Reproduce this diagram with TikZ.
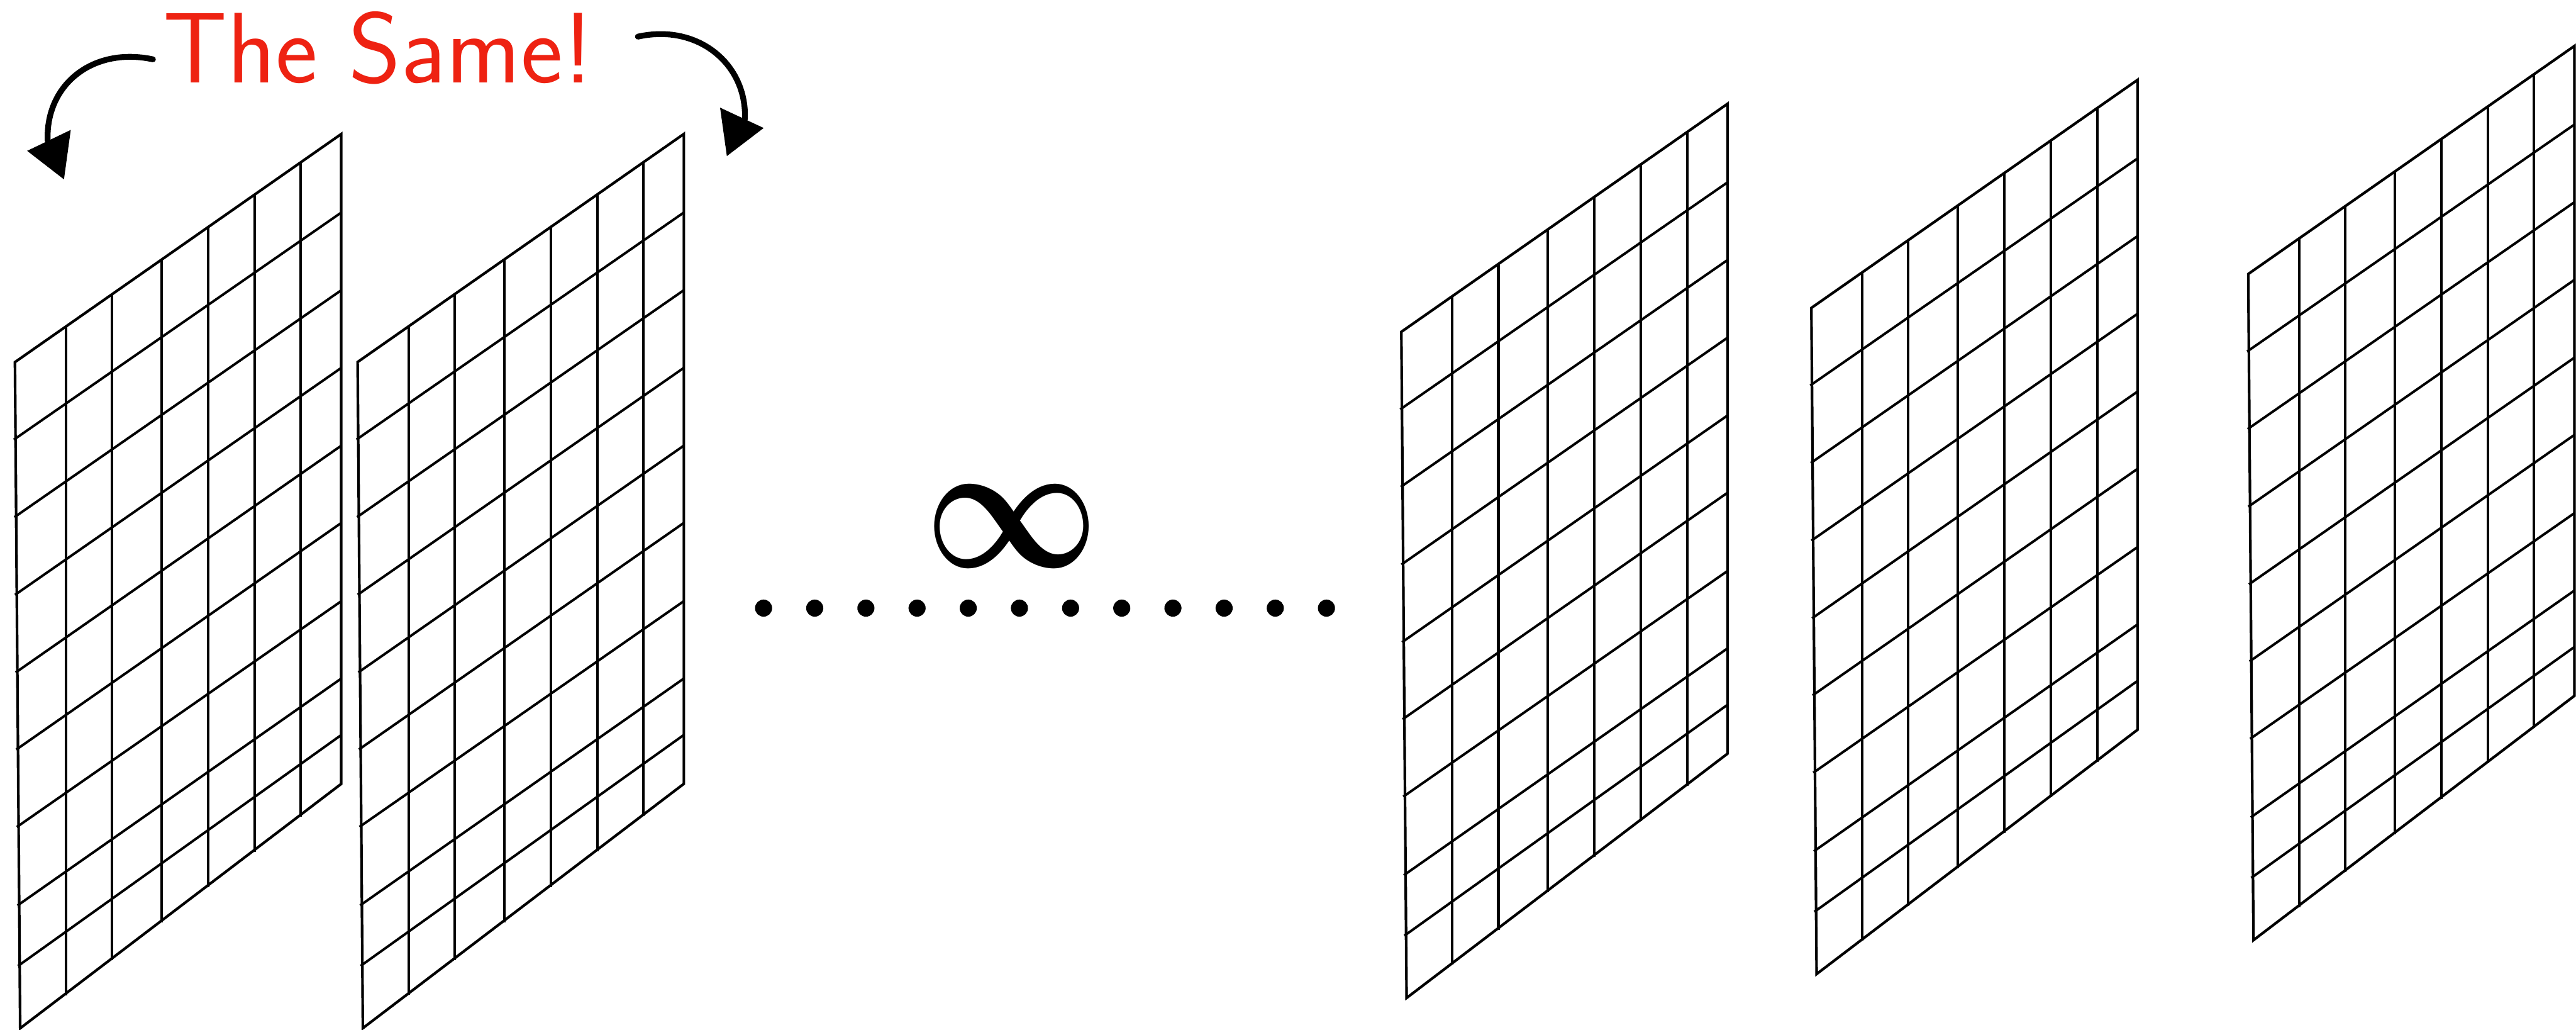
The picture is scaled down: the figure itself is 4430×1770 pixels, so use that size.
\documentclass[tikz,border=0pt]{standalone}
\usepackage{graphicx}
\usetikzlibrary{calc}
\definecolor{samered}{RGB}{238,34,18}
\tikzset{
  gridline/.style={line width=0.42mm, draw=black},
  colline/.style={line width=0.45mm, draw=black},
  frameline/.style={line width=0.45mm, draw=black, line join=miter},
  brush/.style={line width=1.0mm, draw=black, line cap=round},
  dotmark/.style={fill=black},
}
\newcommand\drawsheet[2]{%
  \begin{scope}[shift={(#1,#2)}]
    \foreach \la/\lx/\rb in {133.3/1.05/-257, 266.5/2.09/-123.5, 400/3.14/10,
        533.5/4.19/143.7, 666/5.23/276.5, 799/6.28/411, 934/7.34/544, 1038/8.16/641}
      \draw[gridline] (\lx-3,\la) -- (561,\rb);
    \foreach \c/\t/\b in {87.7/-61.3/1085.1, 166.8/-116.6/1024.9, 252/-176.1/960.1,
        332/-232/899.2, 412/-287.9/838.4, 491.6/-343.5/777.8}
      \draw[colline] (\c,\t) -- (\c,\b+3);
    \draw[frameline] (0,0) -- (9,1145) -- (561,725) -- (561,-392) -- cycle;
  \end{scope}}
\begin{document}
\begin{tikzpicture}[x=0.01cm, y=-0.01cm]
  \useasboundingbox (0,0) rectangle (4430,1770);
  % sheets
  \drawsheet{25.7}{622.5}
  \drawsheet{615}{622.3}
  \drawsheet{2409.9}{570.4}
  \drawsheet{3115}{529.3}
  \drawsheet{3866.3}{471}
  % title
  \node[font=\sffamily\fontsize{49}{59}\selectfont, text=samered, anchor=base, inner sep=0]
    (title) at (650,142.7) {The Same!};
  % infinity
  \node[inner sep=0] (inf) at (1740,905) {\scalebox{7.4}[9.0]{\boldmath$\infty$}};
  % dots
  \foreach \i in {0,...,11}
    \fill[dotmark] (1313.1+88*\i,1045.3) circle[radius=14.7];
  % left arrow
  \coordinate (lstart) at (263,102);
  \coordinate (lend) at (82,242);
  \draw[brush] (lstart) .. controls (160,80) and (78,145) .. (lend);
  \fill (46.7,259.3) -- (121.7,223.3) -- (110,308.3) -- cycle;
  % right arrow
  \coordinate (rstart) at (1097,63);
  \coordinate (rend) at (1281,205);
  \draw[brush] (rstart) .. controls (1200,40) and (1285,110) .. (rend);
  \fill (1238.3,185) -- (1313.3,220) -- (1250,268.3) -- cycle;
\end{tikzpicture}
\end{document}
